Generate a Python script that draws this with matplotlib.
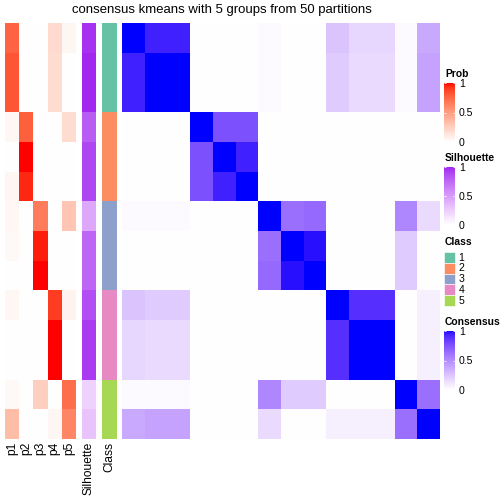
import numpy as np
import matplotlib
matplotlib.use("Agg")
import matplotlib.pyplot as plt
from matplotlib.colors import ListedColormap
from matplotlib.patches import Rectangle

# data #########################################################################

classes = [1, 1, 1, 2, 2, 2, 3, 3, 3, 4, 4, 4, 5, 5]
classColors = ["#66C2A5", "#FC8D62", "#8DA0CB", "#E78AC3", "#A6D854"]
probLabels = ["p1", "p2", "p3", "p4", "p5"]

prob = [
  [0.76, 0.00, 0.00, 0.19, 0.05],
  [0.82, 0.00, 0.00, 0.18, 0.00],
  [0.82, 0.00, 0.00, 0.18, 0.00],
  [0.04, 0.78, 0.00, 0.00, 0.18],
  [0.00, 1.00, 0.00, 0.00, 0.00],
  [0.05, 0.95, 0.00, 0.00, 0.00],
  [0.04, 0.00, 0.66, 0.00, 0.30],
  [0.03, 0.00, 0.97, 0.00, 0.00],
  [0.00, 0.00, 1.00, 0.00, 0.00],
  [0.04, 0.00, 0.00, 0.90, 0.06],
  [0.00, 0.00, 0.00, 1.00, 0.00],
  [0.00, 0.00, 0.00, 1.00, 0.00],
  [0.03, 0.00, 0.25, 0.00, 0.72],
  [0.34, 0.00, 0.00, 0.05, 0.61],
]

silhouette = [0.95, 0.98, 0.98, 0.79, 0.88, 0.88, 0.43, 0.75, 0.75,
              0.85, 0.92, 0.92, 0.23, 0.29]

consensus = [
  [1.00, 0.93, 0.93, 0, 0, 0, 0.02, 0, 0, 0.25, 0.17, 0.17, 0.02, 0.37],
  [0.93, 1.00, 1.00, 0, 0, 0, 0.02, 0, 0, 0.22, 0.15, 0.15, 0.02, 0.40],
  [0.93, 1.00, 1.00, 0, 0, 0, 0.02, 0, 0, 0.22, 0.15, 0.15, 0.02, 0.40],
  [0, 0, 0, 1.00, 0.75, 0.75, 0, 0, 0, 0, 0, 0, 0, 0],
  [0, 0, 0, 0.75, 1.00, 0.93, 0, 0, 0, 0, 0, 0, 0, 0],
  [0, 0, 0, 0.75, 0.93, 1.00, 0, 0, 0, 0, 0, 0, 0, 0],
  [0.02, 0.02, 0.02, 0, 0, 0, 1.00, 0.62, 0.65, 0, 0, 0, 0.52, 0.15],
  [0, 0, 0, 0, 0, 0, 0.62, 1.00, 0.97, 0, 0, 0, 0.22, 0],
  [0, 0, 0, 0, 0, 0, 0.65, 0.97, 1.00, 0, 0, 0, 0.22, 0],
  [0.25, 0.22, 0.22, 0, 0, 0, 0, 0, 0, 1.00, 0.88, 0.88, 0, 0.07],
  [0.17, 0.15, 0.15, 0, 0, 0, 0, 0, 0, 0.88, 1.00, 1.00, 0, 0.07],
  [0.17, 0.15, 0.15, 0, 0, 0, 0, 0, 0, 0.88, 1.00, 1.00, 0, 0.07],
  [0.02, 0.02, 0.02, 0, 0, 0, 0.52, 0.22, 0.22, 0, 0, 0, 1.00, 0.62],
  [0.37, 0.40, 0.40, 0, 0, 0, 0.15, 0, 0, 0.07, 0.07, 0.07, 0.62, 1.00],
]

title = "consensus kmeans with 5 groups from 50 partitions"

# colour ramps in LAB space ####################################################

def toLab(hexColor):
  rgb = np.array(matplotlib.colors.to_rgb(hexColor))
  lin = np.where(rgb <= 0.04045, rgb / 12.92, ((rgb + 0.055) / 1.055) ** 2.4)
  m = np.array([[0.4124, 0.3576, 0.1805],
                [0.2126, 0.7152, 0.0722],
                [0.0193, 0.1192, 0.9505]])
  xyz = m @ lin / np.array([0.95047, 1.0, 1.08883])
  f = np.where(xyz > 0.008856, np.cbrt(xyz), 7.787 * xyz + 16 / 116)
  return np.array([116 * f[1] - 16, 500 * (f[0] - f[1]), 200 * (f[1] - f[2])])

def fromLab(lab):
  fy = (lab[0] + 16) / 116
  f = np.array([fy + lab[1] / 500, fy, fy - lab[2] / 200])
  xyz = np.where(f ** 3 > 0.008856, f ** 3, (f - 16 / 116) / 7.787)
  xyz = xyz * np.array([0.95047, 1.0, 1.08883])
  m = np.array([[3.2406, -1.5372, -0.4986],
                [-0.9689, 1.8758, 0.0415],
                [0.0557, -0.2040, 1.0570]])
  lin = np.clip(m @ xyz, 0, 1)
  rgb = np.where(lin <= 0.0031308, 12.92 * lin, 1.055 * lin ** (1 / 2.4) - 0.055)
  return np.clip(rgb, 0, 1)

def labRamp(c1, c2, n = 256):
  a, b = toLab(c1), toLab(c2)
  return ListedColormap([fromLab(a + (b - a) * t) for t in np.linspace(0, 1, n)])

probCmap = labRamp("white", "red")
silCmap = labRamp("white", "#A020F0")
consCmap = labRamp("white", "blue")
classCmap = ListedColormap(classColors)

# layout helpers (pixel coordinates, y from top) ###############################

W = H = 504.0
FONT = "Liberation Sans"

def rect(x0, y0, x1, y1):
  return [x0 / W, 1 - y1 / H, (x1 - x0) / W, (y1 - y0) / H]

def heat(fig, box, values, cmap, vmin = 0, vmax = 1):
  ax = fig.add_axes(rect(*box))
  ax.imshow(np.array(values, dtype = float), cmap = cmap, vmin = vmin, vmax = vmax,
            aspect = "auto", interpolation = "nearest")
  ax.axis("off")
  return ax

def legendTitle(fig, x, y, name):
  fig.text(x / W, 1 - y / H, name, fontsize = 10.2, fontweight = "bold",
           family = FONT, va = "center", ha = "left")

def colorLegend(fig, x, y0, y1, cmap, name):
  legendTitle(fig, x + 1, y0 - 9, name)
  ax = fig.add_axes(rect(x, y0, x + 11, y1))
  grad = np.linspace(0, 1, 200).reshape(-1, 1)
  ax.imshow(grad, cmap = cmap, aspect = "auto", origin = "lower",
            extent = (0, 1, 0, 1))
  ax.set_xlim(0, 1)
  ax.set_ylim(0, 1)
  for s in ax.spines.values():
    s.set_visible(False)
  ax.set_xticks([])
  ax.set_yticks([0, 0.5, 1])
  ax.set_yticklabels(["0", "0.5", "1"], family = FONT, fontsize = 10.5)
  ax.tick_params(axis = "y", left = True, right = True, labelleft = False,
                 labelright = True, direction = "in", color = "white",
                 length = 2, width = 0.8, pad = 4)

# figure #######################################################################

fig = plt.figure(figsize = (7, 7), dpi = 72)

top, bottom = 22.7, 438.7
heat(fig, (5, top, 76, bottom), prob, probCmap)
heat(fig, (82, top, 96, bottom), [[v] for v in silhouette], silCmap)
heat(fig, (101.7, top, 116, bottom), [[c] for c in classes], classCmap, 0.5, 5.5)
heat(fig, (121.7, top, 439, bottom), consensus, consCmap)

fig.text(222 / W, 1 - 10 / H, title, fontsize = 13.1, family = FONT,
         ha = "center", va = "center")

# bottom labels
colW = (76 - 5) / 5.0
for i, lab in enumerate(probLabels):
  fig.text((5 + colW * (i + 0.5)) / W, 1 - 442 / H, lab, rotation = 90,
           ha = "center", va = "top", fontsize = 12, family = FONT)
fig.text(89 / W, 1 - 442 / H, "Silhouette", rotation = 90, ha = "center",
         va = "top", fontsize = 12, family = FONT)
fig.text(109 / W, 1 - 442 / H, "Class", rotation = 90, ha = "center",
         va = "top", fontsize = 12, family = FONT)

# legends
colorLegend(fig, 444, 83, 142, probCmap, "Prob")
colorLegend(fig, 444, 167, 225, silCmap, "Silhouette")
colorLegend(fig, 444, 331, 390, consCmap, "Consensus")

legendTitle(fig, 445, 241.5, "Class")
legAx = fig.add_axes(rect(444, 252, 504, 307))
legAx.set_xlim(0, 60)
legAx.set_ylim(55, 0)
legAx.axis("off")
for i, c in enumerate(classColors):
  legAx.add_patch(Rectangle((0, i * 10.8), 11, 10.8, facecolor = c,
                            edgecolor = "white", linewidth = 0.6))
  legAx.text(14.5, i * 10.8 + 5.6, str(i + 1), fontsize = 10.5,
             family = FONT, va = "center", ha = "left")

fig.savefig("out.png", dpi = 72)
